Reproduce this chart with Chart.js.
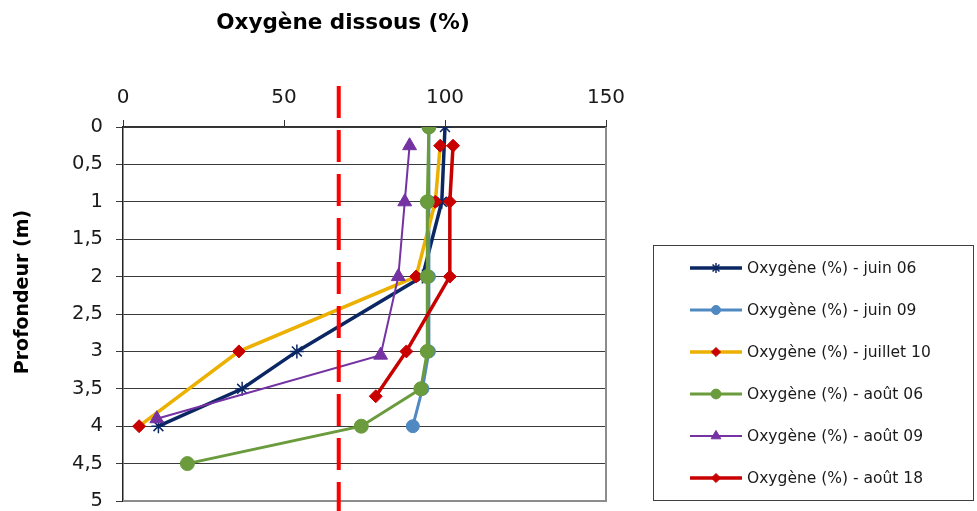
<!DOCTYPE html>
<html>
<head>
<meta charset="utf-8">
<script src="https://cdn.jsdelivr.net/npm/chart.js@4.4.0/dist/chart.umd.min.js"></script>
<style>
  html, body { margin: 0; padding: 0; background: #fff; }
  #wrap { width: 977px; height: 511px; }
</style>
</head>
<body>
<div id="wrap"><canvas id="myChart" width="977" height="511"></canvas></div>
<script>
// depth (m) / oxygen (%)
const juin06Depth = [0, 1, 2, 3, 3.5, 4]
const juin06Oxy = [100, 99, 93, 54, 37, 11]

const juin09Depth = [0, 1, 2, 3, 3.5, 4]
const juin09Oxy = [95, 95, 95, 95, 93, 90]

const juillet10Depth = [0.25, 1, 2, 3, 4]
const juillet10Oxy = [98.5, 97, 91, 36, 5]

const aout06Depth = [0, 1, 2, 3, 3.5, 4, 4.5]
const aout06Oxy = [95, 94.5, 94.5, 94.5, 92.5, 74, 20]

const aout09Depth = [0.25, 1, 2, 3.05, 3.9]
const aout09Oxy = [89, 87.5, 85.5, 80, 10.5]

const aout18Depth = [0.25, 1, 2, 3, 3.6]
const aout18Oxy = [102.5, 101.5, 101.5, 88, 78.5]

const seuil = 67   // red dashed limit
const xTicks = [0, 50, 100, 150]

const FONT = "'DejaVu Sans', sans-serif"

const toPoints = (xs, ys) => xs.map((d, i) => ({ x: ys[i], y: d }))

const serie = (label, depth, oxy, line, width, style, fill, radius) => ({
    label: label,
    data: toPoints(depth, oxy),
    showLine: true,
    tension: 0,
    borderColor: line,
    borderWidth: width,
    pointStyle: style,
    pointBackgroundColor: fill,
    pointBorderColor: fill,
    pointBorderWidth: style === 'star' ? 1.5 : 1,
    pointRadius: radius,
    pointHoverRadius: radius
})

const datasets = [
    serie('Oxygène (%) - juin 06', juin06Depth, juin06Oxy, '#0B2763', 3.5, 'star', '#0B2763', 7),
    serie('Oxygène (%) - juin 09', juin09Depth, juin09Oxy, '#5089C2', 3, 'circle', '#5089C2', 6.5),
    serie('Oxygène (%) - juillet 10', juillet10Depth, juillet10Oxy, '#EBB000', 3.5, 'rectRot', '#C80000', 6.5),
    serie('Oxygène (%) - août 06', aout06Depth, aout06Oxy, '#6A9B3C', 3, 'circle', '#6A9B3C', 7),
    serie('Oxygène (%) - août 09', aout09Depth, aout09Oxy, '#7432A3', 2, 'triangle', '#7432A3', 8),
    serie('Oxygène (%) - août 18', aout18Depth, aout18Oxy, '#C80000', 3.5, 'rectRot', '#C80000', 6.5)
]
// last series on top, like the spreadsheet
datasets.forEach((ds, i) => { ds.order = datasets.length - i })

const decor = {
    id: 'decor',
    beforeDatasetsDraw(chart) {
        const { ctx, chartArea } = chart
        ctx.save()
        ctx.strokeStyle = '#8C8C8C'
        ctx.lineWidth = 2
        ctx.beginPath()
        ctx.moveTo(chartArea.right, chartArea.top)
        ctx.lineTo(chartArea.right, chartArea.bottom)
        ctx.lineTo(chartArea.left, chartArea.bottom)
        ctx.stroke()
        ctx.restore()
    },
    afterDatasetsDraw(chart) {
        const { ctx, chartArea } = chart
        const x = chart.scales.x.getPixelForValue(seuil)
        ctx.save()
        ctx.strokeStyle = '#FF0000'
        ctx.lineWidth = 4
        ctx.setLineDash([32, 12])
        ctx.beginPath()
        ctx.moveTo(x, chartArea.top - 41)
        ctx.lineTo(x, chart.height)
        ctx.stroke()
        ctx.restore()
    },
    afterDraw(chart) {
        const { ctx, chartArea } = chart
        ctx.save()
        // titles
        ctx.fillStyle = '#000'
        ctx.font = 'bold 21.5px ' + FONT
        ctx.textAlign = 'center'
        ctx.textBaseline = 'middle'
        ctx.fillText('Oxygène dissous (%)', chartArea.left + 220, 23)
        ctx.font = 'bold 19px ' + FONT
        ctx.translate(23, 292)
        ctx.rotate(-Math.PI / 2)
        ctx.fillText('Profondeur (m)', 0, 0)
        ctx.restore()

        // legend box
        ctx.save()
        ctx.strokeStyle = '#404040'
        ctx.lineWidth = 1
        ctx.strokeRect(653.5, 245.5, 320, 255)
        ctx.font = '15.5px ' + FONT
        ctx.textAlign = 'left'
        ctx.textBaseline = 'middle'
        chart.data.datasets.forEach((ds, i) => {
            const y = 268 + i * 42
            ctx.strokeStyle = ds.borderColor
            ctx.lineWidth = ds.borderWidth
            ctx.beginPath()
            ctx.moveTo(690, y)
            ctx.lineTo(742, y)
            ctx.stroke()
            ctx.fillStyle = ds.pointBackgroundColor
            ctx.strokeStyle = ds.pointBorderColor
            ctx.lineWidth = ds.pointBorderWidth
            Chart.helpers.drawPoint(ctx, {
                pointStyle: ds.pointStyle,
                radius: ds.pointRadius * 0.7,
                borderWidth: ds.pointBorderWidth,
                rotation: 0
            }, 716, y)
            ctx.fillStyle = '#1a1a1a'
            ctx.fillText(ds.label, 747, y + 1)
        })
        ctx.restore()
    }
}

const config = {
    type: 'scatter',
    data: { datasets: datasets },
    options: {
        responsive: false,
        animation: false,
        layout: { padding: { top: 0, left: 0, right: 371, bottom: 10 } },
        plugins: {
            legend: { display: false },
            tooltip: { enabled: false },
            title: { display: false }
        },
        scales: {
            x: {
                type: 'linear',
                position: 'top',
                min: 0,
                max: 150,
                afterBuildTicks: (scale) => { scale.ticks = xTicks.map(v => ({ value: v })) },
                afterFit: (scale) => { scale.height = 127 },
                ticks: {
                    color: '#1a1a1a',
                    font: { family: FONT, size: 20 },
                    padding: 10,
                    maxRotation: 0
                },
                grid: {
                    drawOnChartArea: false,
                    color: '#333',
                    tickLength: 7
                },
                border: { display: true, color: '#333', width: 1.5 }
            },
            y: {
                type: 'linear',
                reverse: true,
                min: 0,
                max: 5,
                afterFit: (scale) => {
                    scale.width = 123
                    scale.paddingTop = 0
                    scale.paddingBottom = 0
                },
                ticks: {
                    stepSize: 0.5,
                    color: '#1a1a1a',
                    font: { family: FONT, size: 19.5 },
                    padding: 13,
                    callback: (v) => String(v).replace('.', ',')
                },
                grid: {
                    color: '#3a3a3a',
                    lineWidth: 1,
                    tickLength: 7
                },
                border: { display: true, color: '#222', width: 1.5 }
            }
        }
    },
    plugins: [decor]
}

const myChart = new Chart(document.getElementById('myChart'), config)
</script>
</body>
</html>
